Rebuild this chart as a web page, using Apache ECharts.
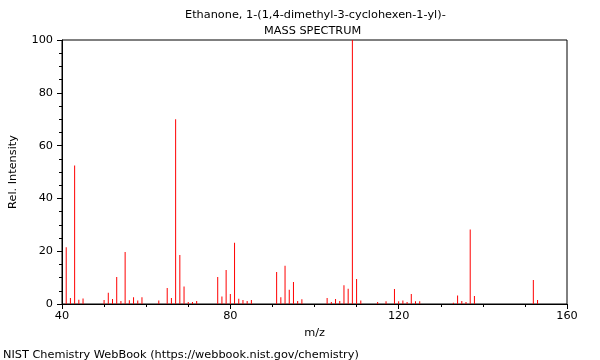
<!DOCTYPE html>
<html><head><meta charset="utf-8">
<script src="https://cdn.jsdelivr.net/npm/echarts@6/dist/echarts.min.js"></script>
<style>html,body{margin:0;padding:0;background:#fff}#c{width:600px;height:360px}</style>
</head><body><div id="c"></div>
<script>
const titleLine1 = "Ethanone, 1-(1,4-dimethyl-3-cyclohexen-1-yl)-";
const titleLine2 = "MASS SPECTRUM";
const xLabel = "m/z";
const yLabel = "Rel. Intensity";
const credit = "NIST Chemistry WebBook (https://webbook.nist.gov/chemistry)";
const mz = [41,42,43,44,45,50,51,52,53,54,55,56,57,58,59,63,65,66,67,68,69,70,71,72,77,78,79,80,81,82,83,84,85,91,92,93,94,95,96,97,103,104,105,106,107,108,109,110,111,115,117,119,120,121,122,123,124,125,133,134,135,136,137,138,152,153];
const intensity = [21.5,2.3,52.5,1.6,2.1,1.5,4.3,1.9,10.2,1.1,19.7,1.4,2.6,1.3,2.6,1.3,6.1,2.3,70,18.6,6.6,0.8,0.8,1.1,10.2,2.8,12.9,3.8,23.2,2,1.5,1.1,1.5,12.1,2.6,14.5,5.4,8.3,1.1,1.8,2.3,0.8,1.9,1.1,7.1,5.8,100,9.5,1.3,0.8,1,5.7,1,1.3,0.8,3.8,1,1,0.5,3.2,1.1,0.8,28.2,3.0,9.1,1.5];
const data = mz.map((m,i)=>[m,intensity[i]]);
const chart = echarts.init(document.getElementById('c'));
const font = 'DejaVu Sans';
const fs = 11.3;
chart.setOption({
  animation:false,
  textStyle:{fontFamily:font},
  title:[
    {text:titleLine1, left:180, top:5, textStyle:{fontSize:fs, fontWeight:'normal', color:'#000', fontFamily:font}},
    {text:titleLine2, left:259, top:21, textStyle:{fontSize:fs, fontWeight:'normal', color:'#000', fontFamily:font}},
    {text:credit, left:-2, top:345, textStyle:{fontSize:fs, fontWeight:'normal', color:'#000', fontFamily:font}}
  ],
  grid:{left:62, right:33, top:40, bottom:56, show:true, borderColor:'#000', borderWidth:1, backgroundColor:'transparent'},
  xAxis:{type:'value', min:40, max:160, interval:40, name:xLabel, nameLocation:'middle', nameGap:24,
    nameTextStyle:{fontSize:fs,color:'#000',fontFamily:font},
    axisLine:{lineStyle:{color:'#000'}}, axisTick:{length:5,lineStyle:{color:'#000'}},
    minorTick:{show:true, splitNumber:4, length:3, lineStyle:{color:'#000'}},
    axisLabel:{fontSize:fs,color:'#000',margin:7,fontFamily:font}, splitLine:{show:false}},
  yAxis:{type:'value', min:0, max:100, interval:20, name:yLabel, nameLocation:'middle', nameGap:43,
    nameTextStyle:{fontSize:fs,color:'#000',fontFamily:font},
    axisLine:{show:true,lineStyle:{color:'#000'}}, axisTick:{show:true,length:5,lineStyle:{color:'#000'}},
    minorTick:{show:true, splitNumber:4, length:3, lineStyle:{color:'#000'}},
    axisLabel:{fontSize:fs,color:'#000',margin:9,fontFamily:font}, splitLine:{show:false}},
  series:[{type:'bar', data:data, barWidth:1, itemStyle:{color:'#ff0000'}, silent:true}]
});
</script></body></html>
